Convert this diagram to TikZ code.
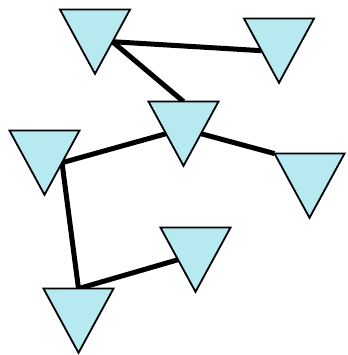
\documentclass[tikz,border=0pt]{standalone}
\usepackage{xcolor}
\usepackage{tikz}
\usetikzlibrary{shapes.geometric,backgrounds}
\definecolor{TriFill}{HTML}{B6E9F0}
\definecolor{TriEdge}{HTML}{000000}
\tikzset{
  tribox/.style={
    regular polygon,
    regular polygon sides=3,
    shape border rotate=180,
    minimum size=80.8pt,
    inner sep=0pt,
    outer sep=0pt,
    draw=TriEdge,
    fill=TriFill,
    line width=1.8pt,
    yscale=1.06,
    transform shape
  },
  trilink/.style={draw=black,line width=5pt}
}

\begin{document}
\begin{tikzpicture}[x=1pt,y=-1pt]
  \useasboundingbox (0,0) rectangle (347,355);

  \node[tribox] (topleft)  at (95,31) {};
  \node[tribox] (topright) at (279,40) {};
  \node[tribox] (middle)   at (183.5,123) {};
  \node[tribox] (left)     at (44.5,152) {};
  \node[tribox] (right)    at (309.5,175) {};
  \node[tribox] (lowmid)   at (195.5,249) {};
  \node[tribox] (bottom)   at (78.5,310) {};

  \begin{scope}[on background layer]
    \draw[trilink] (topleft.side 1) -- (topright.side 3);
    \draw[trilink] (topleft.side 1) -- (middle.side 2);
    \draw[trilink] (middle.side 3) -- (left.side 1);
    \draw[trilink] (middle.side 1) -- (right.corner 3);
    \draw[trilink] (left.side 1) -- (bottom.side 2);
    \draw[trilink] (bottom.side 2) -- (lowmid.side 3);
  \end{scope}
\end{tikzpicture}
\end{document}
